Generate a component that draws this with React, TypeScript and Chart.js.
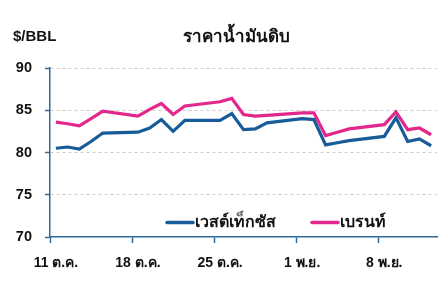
import React, { useEffect, useRef } from "react";
import { Chart, registerables } from "chart.js";

Chart.register(...registerables);

const dates = [
  "11 ต.ค.", "12 ต.ค.", "13 ต.ค.", "14 ต.ค.", "15 ต.ค.", "16 ต.ค.", "17 ต.ค.",
  "18 ต.ค.", "19 ต.ค.", "20 ต.ค.", "21 ต.ค.", "22 ต.ค.", "23 ต.ค.", "24 ต.ค.",
  "25 ต.ค.", "26 ต.ค.", "27 ต.ค.", "28 ต.ค.", "29 ต.ค.", "30 ต.ค.", "31 ต.ค.",
  "1 พ.ย.", "2 พ.ย.", "3 พ.ย.", "4 พ.ย.", "5 พ.ย.", "6 พ.ย.", "7 พ.ย.",
  "8 พ.ย.", "9 พ.ย.", "10 พ.ย.", "11 พ.ย.", "12 พ.ย.",
];

const wti = [
  80.5, 80.65, 80.4, 81.3, 82.3, null, null,
  82.4, 82.9, 83.9, 82.5, 83.8, null, null,
  83.8, 84.6, 82.7, 82.8, 83.5, null, null,
  84.0, 83.9, 80.9, 81.15, 81.4, null, null,
  81.9, 84.1, 81.3, 81.6, 80.8,
];

const brent = [
  83.6, 83.4, 83.15, 84.0, 84.9, null, null,
  84.3, 85.1, 85.8, 84.5, 85.5, null, null,
  86.0, 86.4, 84.5, 84.3, 84.4, null, null,
  84.7, 84.7, 82.0, 82.4, 82.8, null, null,
  83.3, 84.8, 82.7, 82.9, 82.1,
];

const seriesNames = ["เวสต์เท็กซัส", "เบรนท์"];
const chartTitle = "ราคาน้ำมันดิบ";
const unitLabel = "$/BBL";
const yTicks = [70, 75, 80, 85, 90];

const BLUE = "#175b98";
const PINK = "#e2288c";
const AXIS = "#2f6a9c";
const FONT = "'Liberation Sans', 'Noto Sans', sans-serif";

const overlayPlugin = {
  id: "overlay",
  afterDraw(chart: any) {
    const { ctx, chartArea } = chart;
    ctx.save();
    ctx.fillStyle = "#111";
    ctx.font = `bold 15px ${FONT}`;
    ctx.textBaseline = "middle";
    ctx.textAlign = "left";
    ctx.fillText(unitLabel, 13, 37);
    ctx.font = `bold 17px ${FONT}`;
    ctx.textAlign = "center";
    ctx.fillText(chartTitle, 236, 37);
    const items = chart.data.datasets.map((d: any) => ({ label: d.label, color: d.borderColor }));
    const starts = [chartArea.left + 117, chartArea.left + 262];
    const y = 222.5;
    ctx.font = `bold 16px ${FONT}`;
    ctx.textAlign = "left";
    items.forEach((it: any, i: number) => {
      const x = starts[i];
      ctx.strokeStyle = it.color;
      ctx.lineWidth = 3.5;
      ctx.lineCap = "round";
      ctx.beginPath();
      ctx.moveTo(x, y);
      ctx.lineTo(x + 26, y);
      ctx.stroke();
      ctx.fillStyle = "#111";
      ctx.fillText(it.label, x + 28, y);
    });
    ctx.restore();
  },
};

export default function App() {
  const ref = useRef<HTMLCanvasElement | null>(null);
  useEffect(() => {
    document.body.style.margin = "0";
    const canvas = ref.current;
    if (!canvas) return;
    const chart = new Chart(canvas, {
      type: "line",
      data: {
        labels: dates,
        datasets: [
          {
            label: seriesNames[0],
            data: wti,
            borderColor: BLUE,
            backgroundColor: BLUE,
            borderWidth: 3.2,
            pointRadius: 0,
            tension: 0,
            spanGaps: true,
            borderJoinStyle: "miter",
          },
          {
            label: seriesNames[1],
            data: brent,
            borderColor: PINK,
            backgroundColor: PINK,
            borderWidth: 3.2,
            pointRadius: 0,
            tension: 0,
            spanGaps: true,
            borderJoinStyle: "miter",
          },
        ],
      },
      options: {
        responsive: false,
        animation: false,
        layout: { padding: { left: 0, right: 10, top: 68, bottom: 0 } },
        plugins: {
          legend: { display: false },
          title: { display: false },
          tooltip: { enabled: false },
        },
        scales: {
          x: {
            type: "category",
            offset: true,
            grid: {
              offset: true,
              drawOnChartArea: false,
              drawTicks: true,
              tickLength: 6,
              tickWidth: 1.5,
              tickColor: (c: any) =>
                c.index !== undefined && c.index % 7 === 0 ? AXIS : "rgba(0,0,0,0)",
            },
            border: { display: true, color: AXIS, width: 1.5 },
            ticks: {
              autoSkip: false,
              maxRotation: 0,
              minRotation: 0,
              padding: 12,
              color: "#111",
              font: { family: FONT, size: 14, weight: "bold" },
              callback: (_v: any, i: number) => (i % 7 === 0 ? dates[i] : ""),
            },
            afterFit: (s: any) => {
              s.height = 63;
            },
          },
          y: {
            min: 70,
            max: 90,
            afterBuildTicks: (s: any) => {
              s.ticks = yTicks.map((v) => ({ value: v }));
            },
            grid: {
              color: (c: any) => (c.tick && c.tick.value === 70 ? "rgba(0,0,0,0)" : "#cfcfcf"),
              lineWidth: 1,
              drawTicks: true,
              tickLength: 5,
              tickWidth: 1.5,
              tickColor: AXIS,
            },
            border: { display: true, color: AXIS, width: 1.5, dash: [3, 3] },
            ticks: {
              padding: 13,
              color: "#111",
              font: { family: FONT, size: 14.5, weight: "bold" },
            },
            afterFit: (s: any) => {
              s.width = 50;
            },
          },
        },
      },
      plugins: [overlayPlugin],
    } as any);
    return () => chart.destroy();
  }, []);
  return <canvas ref={ref} width={447} height={300} style={{ display: "block" }} />;
}
